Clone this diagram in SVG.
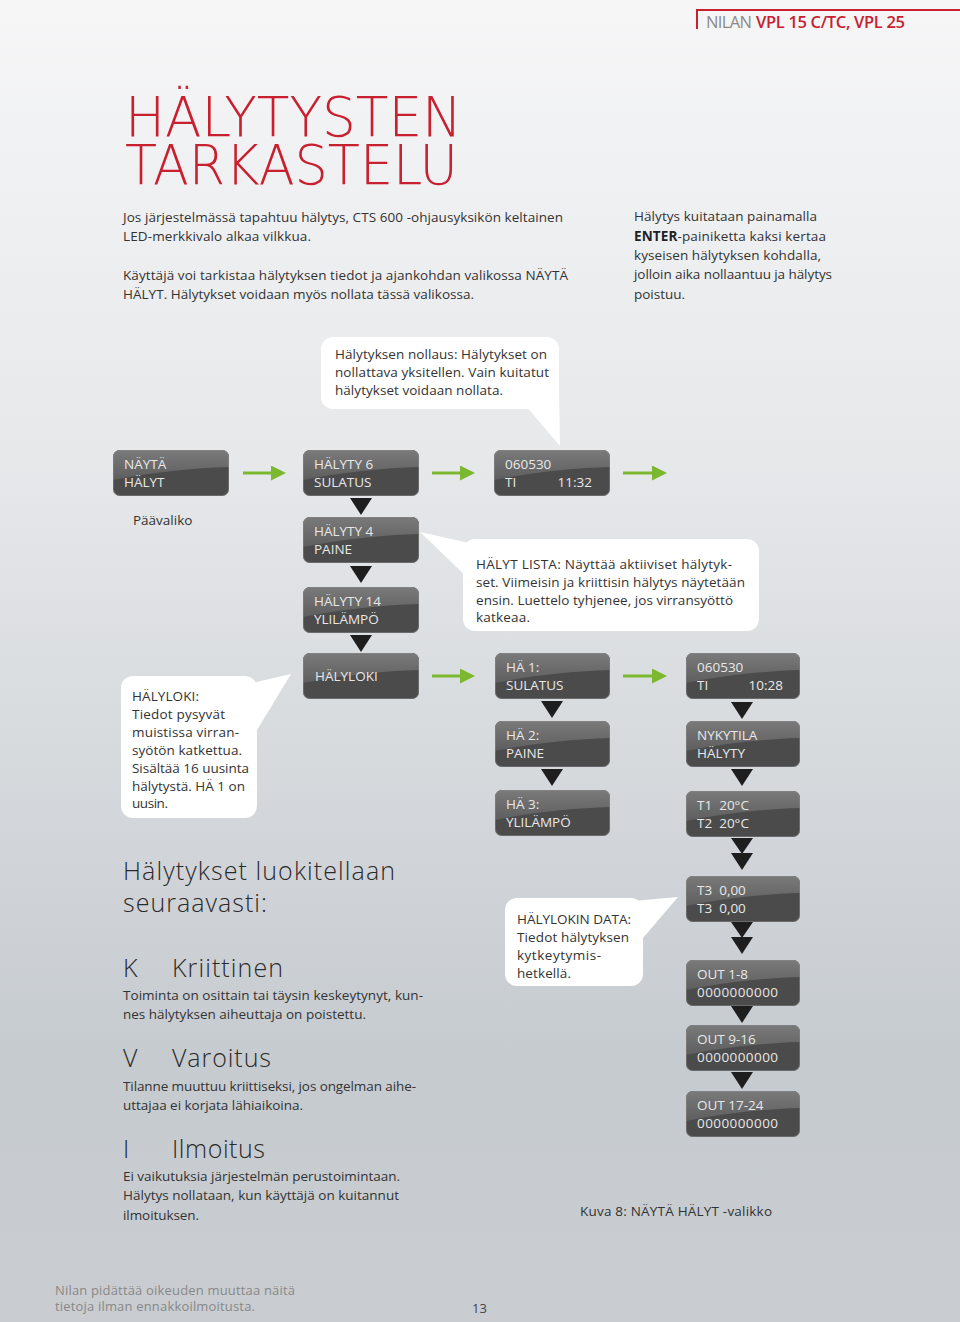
<svg xmlns="http://www.w3.org/2000/svg" xmlns:xlink="http://www.w3.org/1999/xlink" width="960" height="1322" viewBox="0 0 960 1322">
<defs>
<linearGradient id="bg" x1="0" y1="0" x2="0" y2="1">
<stop offset="0" stop-color="#f6f6f7"/>
<stop offset="0.35" stop-color="#e6e8ea"/>
<stop offset="0.8" stop-color="#c6cbd0"/>
<stop offset="1" stop-color="#c9cdd1"/>
</linearGradient>
<linearGradient id="lcdTop" x1="0" y1="0" x2="0" y2="1">
<stop offset="0" stop-color="#7a7a7a"/>
<stop offset="1" stop-color="#5e5e5e"/>
</linearGradient>
<symbol id="lcd" viewBox="0 0 116 46" preserveAspectRatio="none">
<rect x="0" y="0" width="116" height="46" rx="7" fill="#4b4b4b"/>
<path d="M7 0 H109 A7 7 0 0 1 116 7 V17 C80 18 40 22 0 30 V7 A7 7 0 0 1 7 0 Z" fill="url(#lcdTop)"/>
<rect x="0.5" y="0.5" width="115" height="45" rx="6.5" fill="none" stroke="#8a8a8a" stroke-opacity="0.5"/>
</symbol>
<marker id="ga" viewBox="0 0 10 10" refX="2" refY="5" markerWidth="6" markerHeight="5" markerUnits="strokeWidth" orient="auto">
<path d="M0 0 L10 5 L0 10 Z" fill="#7cb82f"/>
</marker>
<style>
.t{font-family:"Open Sans","Liberation Sans",sans-serif;fill:#333;font-size:13.5px}
.lcdt{font-family:"Open Sans","Liberation Sans",sans-serif;fill:#e8e8e8;font-size:13.5px}
.h{font-family:"Open Sans","Liberation Sans",sans-serif;fill:#2a2a2a;font-size:25px;font-weight:300}
.title{font-family:"DejaVu Sans","Liberation Sans",sans-serif;fill:#c8202f;font-size:56px;font-weight:200}
.bub{fill:#ffffff}
.tri{fill:#1e1e1e}
.garrow{stroke:#7cb82f;stroke-width:3;fill:none;marker-end:url(#ga)}
.foot{font-family:"Open Sans","Liberation Sans",sans-serif;fill:#888;font-size:13px}
</style>
</defs>
<rect x="0" y="0" width="960" height="1322" fill="url(#bg)"/>

<g id="header">
<path d="M697 29 V10 H960" fill="none" stroke="#c8202f" stroke-width="2"/>
<text x="706" y="28" font-family="'Open Sans','Liberation Sans',sans-serif" font-size="16.5" fill="#8a8a8a" textLength="46">NILAN</text>
<text x="756" y="28" font-family="'Open Sans','Liberation Sans',sans-serif" font-size="16.5" fill="#c8202f" font-weight="600" textLength="149">VPL 15 C/TC, VPL 25</text>
</g>

<g id="title">
<text class="title" x="125" y="136" textLength="337" lengthAdjust="spacingAndGlyphs">HÄLYTYSTEN</text>
<text class="title" x="125" y="184" textLength="333" lengthAdjust="spacingAndGlyphs">TARKASTELU</text>
</g>

<g id="intro">
<text class="t" x="123" y="222" textLength="440">Jos järjestelmässä tapahtuu hälytys, CTS 600 -ohjausyksikön keltainen</text>
<text class="t" x="123" y="241" textLength="188">LED-merkkivalo alkaa vilkkua.</text>
<text class="t" x="123" y="280" textLength="445">Käyttäjä voi tarkistaa hälytyksen tiedot ja ajankohdan valikossa NÄYTÄ</text>
<text class="t" x="123" y="299" textLength="351">HÄLYT. Hälytykset voidaan myös nollata tässä valikossa.</text>
<text class="t" x="634" y="221" textLength="183">Hälytys kuitataan painamalla</text>
<text class="t" x="634" y="241" textLength="192"><tspan font-weight="700" fill="#222">ENTER</tspan>-painiketta kaksi kertaa</text>
<text class="t" x="634" y="260" textLength="187">kyseisen hälytyksen kohdalla,</text>
<text class="t" x="634" y="279" textLength="198">jolloin aika nollaantuu ja hälytys</text>
<text class="t" x="634" y="299" textLength="51">poistuu.</text>
</g>

<g id="callout-nollaus">
<rect class="bub" x="321" y="337" width="238" height="72" rx="12"/>
<path class="bub" d="M525 405 L560 446 L559 390 Z"/>
<text class="t" x="335" y="359" textLength="212">Hälytyksen nollaus: Hälytykset on</text>
<text class="t" x="335" y="377" textLength="214">nollattava yksitellen. Vain kuitatut</text>
<text class="t" x="335" y="395" textLength="168">hälytykset voidaan nollata.</text>
</g>

<g id="connectors">
<line class="garrow" x1="243" y1="473" x2="274" y2="473"/>
<line class="garrow" x1="432" y1="473" x2="463" y2="473"/>
<line class="garrow" x1="623" y1="473" x2="655" y2="473"/>
<line class="garrow" x1="432" y1="676" x2="463" y2="676"/>
<line class="garrow" x1="623" y1="676" x2="655" y2="676"/>
<path class="tri" d="M350 498 H372 L361 515 Z"/>
<path class="tri" d="M350 566 H372 L361 583 Z"/>
<path class="tri" d="M350 635 H372 L361 652 Z"/>
<path class="tri" d="M541 701 H563 L552 718 Z"/>
<path class="tri" d="M541 769 H563 L552 786 Z"/>
<path class="tri" d="M731 702 H753 L742 719 Z"/>
<path class="tri" d="M731 769 H753 L742 786 Z"/>
<path class="tri" d="M731 838 H753 L742 854 Z"/>
<path class="tri" d="M731 853 H753 L742 870 Z"/>
<path class="tri" d="M731 922 H753 L742 938 Z"/>
<path class="tri" d="M731 937 H753 L742 954 Z"/>
<path class="tri" d="M731 1006 H753 L742 1023 Z"/>
<path class="tri" d="M731 1072 H753 L742 1089 Z"/>
</g>

<g id="n-nayta">
<use xlink:href="#lcd" x="113" y="450" width="116" height="46"/>
<text class="lcdt" x="124" y="469">NÄYTÄ</text>
<text class="lcdt" x="124" y="487">HÄLYT</text>
</g>
<text class="t" x="133" y="525" font-size="14">Päävaliko</text>

<g id="n-halyty6">
<use xlink:href="#lcd" x="303" y="450" width="116" height="46"/>
<text class="lcdt" x="314" y="469">HÄLYTY 6</text>
<text class="lcdt" x="314" y="487">SULATUS</text>
</g>
<g id="n-time1">
<use xlink:href="#lcd" x="494" y="450" width="116" height="46"/>
<text class="lcdt" x="505" y="469">060530</text>
<text class="lcdt" x="505" y="487">TI</text>
<text class="lcdt" x="592" y="487" text-anchor="end">11:32</text>
</g>
<g id="n-halyty4">
<use xlink:href="#lcd" x="303" y="517" width="116" height="46"/>
<text class="lcdt" x="314" y="536">HÄLYTY 4</text>
<text class="lcdt" x="314" y="554">PAINE</text>
</g>
<g id="n-halyty14">
<use xlink:href="#lcd" x="303" y="587" width="116" height="46"/>
<text class="lcdt" x="314" y="606">HÄLYTY 14</text>
<text class="lcdt" x="314" y="624">YLILÄMPÖ</text>
</g>

<g id="callout-lista">
<path class="bub" d="M420 532 L478 545 L470 580 Z"/>
<rect class="bub" x="463" y="539" width="296" height="92" rx="12"/>
<text class="t" x="476" y="569" textLength="256">HÄLYT LISTA: Näyttää aktiiviset hälytyk-</text>
<text class="t" x="476" y="587" textLength="269">set. Viimeisin ja kriittisin hälytys näytetään</text>
<text class="t" x="476" y="605" textLength="257">ensin. Luettelo tyhjenee, jos virransyöttö</text>
<text class="t" x="476" y="622" textLength="54">katkeaa.</text>
</g>

<g id="n-halyloki">
<use xlink:href="#lcd" x="303" y="653" width="116" height="46"/>
<text class="lcdt" x="315" y="681">HÄLYLOKI</text>
</g>

<g id="callout-halyloki">
<path class="bub" d="M230 688 L291 674 L257 730 Z"/>
<rect class="bub" x="121" y="676" width="136" height="142" rx="12"/>
<text class="t" x="132" y="701" textLength="67">HÄLYLOKI:</text>
<text class="t" x="132" y="719" textLength="93">Tiedot pysyvät</text>
<text class="t" x="132" y="737" textLength="107">muistissa virran-</text>
<text class="t" x="132" y="755" textLength="110">syötön katkettua.</text>
<text class="t" x="132" y="773" textLength="117">Sisältää 16 uusinta</text>
<text class="t" x="132" y="791" textLength="113">hälytystä. HÄ 1 on</text>
<text class="t" x="132" y="808" textLength="36">uusin.</text>
</g>

<g id="n-ha1">
<use xlink:href="#lcd" x="495" y="653" width="115" height="46"/>
<text class="lcdt" x="506" y="672">HÄ 1:</text>
<text class="lcdt" x="506" y="690">SULATUS</text>
</g>
<g id="n-ha2">
<use xlink:href="#lcd" x="495" y="721" width="115" height="46"/>
<text class="lcdt" x="506" y="740">HÄ 2:</text>
<text class="lcdt" x="506" y="758">PAINE</text>
</g>
<g id="n-ha3">
<use xlink:href="#lcd" x="495" y="790" width="115" height="46"/>
<text class="lcdt" x="506" y="809">HÄ 3:</text>
<text class="lcdt" x="506" y="827">YLILÄMPÖ</text>
</g>

<g id="n-time2">
<use xlink:href="#lcd" x="686" y="653" width="114" height="46"/>
<text class="lcdt" x="697" y="672">060530</text>
<text class="lcdt" x="697" y="690">TI</text>
<text class="lcdt" x="783" y="690" text-anchor="end">10:28</text>
</g>
<g id="n-nykytila">
<use xlink:href="#lcd" x="686" y="721" width="114" height="46"/>
<text class="lcdt" x="697" y="740">NYKYTILA</text>
<text class="lcdt" x="697" y="758">HÄLYTY</text>
</g>
<g id="n-t1t2">
<use xlink:href="#lcd" x="686" y="791" width="114" height="46"/>
<text class="lcdt" x="697" y="810">T1 &#160;20°C</text>
<text class="lcdt" x="697" y="828">T2 &#160;20°C</text>
</g>
<g id="n-t3">
<use xlink:href="#lcd" x="686" y="876" width="114" height="46"/>
<text class="lcdt" x="697" y="895">T3 &#160;0,00</text>
<text class="lcdt" x="697" y="913">T3 &#160;0,00</text>
</g>
<g id="n-out1">
<use xlink:href="#lcd" x="686" y="960" width="114" height="46"/>
<text class="lcdt" x="697" y="979">OUT 1-8</text>
<text class="lcdt" x="697" y="997" textLength="81">0000000000</text>
</g>
<g id="n-out9">
<use xlink:href="#lcd" x="686" y="1025" width="114" height="46"/>
<text class="lcdt" x="697" y="1044">OUT 9-16</text>
<text class="lcdt" x="697" y="1062" textLength="81">0000000000</text>
</g>
<g id="n-out17">
<use xlink:href="#lcd" x="686" y="1091" width="114" height="46"/>
<text class="lcdt" x="697" y="1110">OUT 17-24</text>
<text class="lcdt" x="697" y="1128" textLength="81">0000000000</text>
</g>

<g id="callout-data">
<path class="bub" d="M600 904 L678 897 L643 938 Z"/>
<rect class="bub" x="505" y="898" width="138" height="88" rx="12"/>
<text class="t" x="517" y="924" textLength="114">HÄLYLOKIN DATA:</text>
<text class="t" x="517" y="942" textLength="112">Tiedot hälytyksen</text>
<text class="t" x="517" y="960" textLength="84">kytkeytymis-</text>
<text class="t" x="517" y="978" textLength="54">hetkellä.</text>
</g>

<g id="classes">
<text class="h" x="123" y="880" textLength="272">Hälytykset luokitellaan</text>
<text class="h" x="123" y="912" textLength="144">seuraavasti:</text>
<text class="h" x="123" y="977">K</text>
<text class="h" x="172" y="977" textLength="111">Kriittinen</text>
<text class="t" x="123" y="1000" textLength="300">Toiminta on osittain tai täysin keskeytynyt, kun-</text>
<text class="t" x="123" y="1019" textLength="243">nes hälytyksen aiheuttaja on poistettu.</text>
<text class="h" x="123" y="1067">V</text>
<text class="h" x="172" y="1067" textLength="99">Varoitus</text>
<text class="t" x="123" y="1091" textLength="293">Tilanne muuttuu kriittiseksi, jos ongelman aihe-</text>
<text class="t" x="123" y="1110" textLength="180">uttajaa ei korjata lähiaikoina.</text>
<text class="h" x="123" y="1158">I</text>
<text class="h" x="172" y="1158" textLength="93">Ilmoitus</text>
<text class="t" x="123" y="1181" textLength="277">Ei vaikutuksia järjestelmän perustoimintaan.</text>
<text class="t" x="123" y="1200" textLength="276">Hälytys nollataan, kun käyttäjä on kuitannut</text>
<text class="t" x="123" y="1220" textLength="76">ilmoituksen.</text>
</g>

<text class="t" x="580" y="1216" textLength="192">Kuva 8: NÄYTÄ HÄLYT -valikko</text>

<g id="footer">
<text class="foot" x="55" y="1295" textLength="240">Nilan pidättää oikeuden muuttaa näitä</text>
<text class="foot" x="55" y="1311" textLength="200">tietoja ilman ennakkoilmoitusta.</text>
<text class="foot" x="472" y="1313" style="fill:#444">13</text>
</g>
</svg>
